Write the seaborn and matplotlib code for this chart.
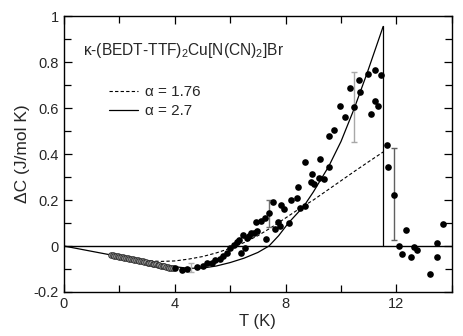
# Specific heat difference of kappa-(BEDT-TTF)2Cu[N(CN)2]Br vs temperature
import numpy as np
import pandas as pd
import matplotlib
matplotlib.use("Agg")
import matplotlib.pyplot as plt
from matplotlib.ticker import MultipleLocator, FixedLocator
from matplotlib.lines import Line2D
import seaborn as sns

# ---- data ----
# low temperature points (grey, dense)
grey_t = [1.70, 1.76, 1.82, 1.88, 1.94, 2.00, 2.06, 2.12, 2.18, 2.24, 2.30,
          2.36, 2.42, 2.48, 2.54, 2.60, 2.66, 2.72, 2.78, 2.84, 2.90, 2.96,
          3.02, 3.08, 3.14, 3.20, 3.26, 3.32, 3.38, 3.44, 3.50, 3.56, 3.62,
          3.68, 3.74, 3.80, 3.86, 3.92]
grey_c = [-0.040, -0.041, -0.043, -0.044, -0.045, -0.047, -0.048, -0.049,
          -0.051, -0.052, -0.053, -0.055, -0.056, -0.058, -0.060, -0.061,
          -0.062, -0.064, -0.066, -0.067, -0.069, -0.071, -0.073, -0.074,
          -0.076, -0.077, -0.079, -0.080, -0.082, -0.084, -0.086, -0.087,
          -0.089, -0.091, -0.092, -0.094, -0.095, -0.097]

# black points
data_t = [4.02, 4.26, 4.44, 4.81, 5.02, 5.17, 5.35, 5.47, 5.65, 5.75, 5.89,
          6.01, 6.14, 6.26, 6.32, 6.38, 6.53, 6.47, 6.62, 6.68, 6.76, 6.86,
          6.98, 6.92, 7.10, 7.25, 7.28, 7.40, 7.56, 7.61, 7.73, 7.83, 7.80,
          7.95, 8.13, 8.19, 8.41, 8.43, 8.53, 8.70, 8.70, 8.91, 8.97, 9.03,
          9.21, 9.25, 9.40, 9.55, 9.55, 9.76, 9.98, 10.16, 10.34, 10.46,
          10.64, 10.69, 10.97, 11.09, 11.24, 11.24, 11.33, 11.45, 11.65,
          11.71, 11.91, 12.09, 12.21, 12.36, 12.51, 12.62, 12.75, 13.22,
          13.48, 13.48, 13.68]
data_c = [-0.097, -0.104, -0.099, -0.090, -0.088, -0.076, -0.074, -0.060,
          -0.057, -0.044, -0.030, -0.010, 0.006, 0.016, 0.028, -0.030, -0.009,
          0.049, 0.035, 0.045, 0.057, 0.057, 0.064, 0.103, 0.107, 0.122,
          0.030, 0.143, 0.190, 0.074, 0.103, 0.180, 0.088, 0.160, 0.100,
          0.200, 0.210, 0.257, 0.165, 0.175, 0.365, 0.277, 0.313, 0.270,
          0.296, 0.380, 0.290, 0.343, 0.480, 0.506, 0.607, 0.560, 0.687,
          0.604, 0.723, 0.672, 0.749, 0.575, 0.766, 0.629, 0.610, 0.745,
          0.438, 0.343, 0.223, 0.001, -0.033, 0.071, -0.048, -0.003, -0.019,
          -0.122, -0.048, 0.013, 0.097]

# error bars: position, lower, upper, colour
err_t = [4.57, 7.40, 10.46, 11.91]
err_c = [-0.095, 0.140, 0.604, 0.223]
err_lo = [-0.115, 0.081, 0.452, 0.025]
err_hi = [-0.075, 0.200, 0.755, 0.425]
err_col = ["#b0b0b0", "#707070", "#a8a8a8", "#606060"]

# model curves
tc = 11.52
fit27_t = [0, 1.0, 1.7, 2.5, 3.0, 3.5, 4.0, 4.5, 5.0, 5.5, 6.0, 6.5, 7.0,
           7.4, 7.75, 8.1, 8.65, 9.0, 9.55, 10.0, 10.46, 10.94, 11.52]
fit27_c = [0, -0.023, -0.039, -0.057, -0.068, -0.080, -0.090, -0.097,
           -0.096, -0.087, -0.072, -0.053, -0.028, 0.0, 0.045, 0.100, 0.172,
           0.235, 0.345, 0.455, 0.593, 0.752, 0.955]
fit176_t = [2.5, 3.0, 3.5, 4.0, 4.5, 5.0, 5.5, 6.0, 6.5, 7.0, 7.45, 8.0,
            8.53, 9.0, 9.5, 10.0, 10.5, 11.0, 11.52]
fit176_c = [-0.057, -0.064, -0.067, -0.065, -0.057, -0.046, -0.030, -0.010,
            0.015, 0.045, 0.078, 0.122, 0.165, 0.200, 0.242, 0.284, 0.326,
            0.367, 0.409]

# ---- plot ----
sns.set_style("ticks")
plt.rcParams["font.family"] = ["Liberation Sans", "DejaVu Sans"]
plt.rcParams["mathtext.default"] = "regular"

fig = plt.figure(figsize=(4.63, 3.36), dpi=100)
ax = fig.add_axes([0.138, 0.131, 0.838, 0.821])

ax.axhline(0, color="black", lw=1.0, zorder=1)

sns.lineplot(x=fit176_t, y=fit176_c, ax=ax, color="black", lw=0.8,
             linestyle=(0, (3, 2)), sort=False, zorder=2)
sns.lineplot(x=fit27_t, y=fit27_c, ax=ax, color="black", lw=0.9,
             sort=False, zorder=2)
ax.plot([tc, tc], [0, fit27_c[-1]], color="black", lw=0.9, zorder=2)

for t, c, lo, hi, col in zip(err_t, err_c, err_lo, err_hi, err_col):
    ax.errorbar([t], [c], yerr=[[c - lo], [hi - c]], fmt="none",
                ecolor=col, elinewidth=1.0, capsize=2.5, capthick=1.0,
                zorder=3)

sns.scatterplot(x=grey_t, y=grey_c, ax=ax, marker="o", s=16,
                facecolor="#a8a8a8", edgecolor="#303030", linewidth=0.7,
                zorder=4)
sns.scatterplot(x=data_t, y=data_c, ax=ax, marker="o", s=23,
                color="black", edgecolor="black", linewidth=0, zorder=5)

ax.set_xlim(0, 14)
ax.set_ylim(-0.2, 1.0)
ax.xaxis.set_major_locator(FixedLocator([0, 4, 8, 12]))
ax.xaxis.set_minor_locator(MultipleLocator(2))
ax.yaxis.set_major_locator(MultipleLocator(0.2))
ax.yaxis.set_minor_locator(MultipleLocator(0.1))
ax.set_yticks([-0.2, 0, 0.2, 0.4, 0.6, 0.8, 1.0])
ax.set_yticklabels(["-0.2", "0", "0.2", "0.4", "0.6", "0.8", "1"])
ax.tick_params(which="both", direction="in", top=True, right=True,
               labelsize=10.5, width=0.9, color="black")
ax.tick_params(which="major", length=6)
ax.tick_params(which="minor", length=5)
for sp in ax.spines.values():
    sp.set_linewidth(1.0)
    sp.set_color("black")

ax.set_xlabel("T (K)", fontsize=12, labelpad=2)
ax.set_ylabel("ΔC (J/mol K)", fontsize=12.5, labelpad=3)

ax.text(0.05, 0.877, "κ-(BEDT-TTF)$_2$Cu[N(CN)$_2$]Br", transform=ax.transAxes,
        fontsize=11.2, va="center", ha="left")

handles = [Line2D([], [], color="black", lw=0.8, linestyle=(0, (3, 2))),
           Line2D([], [], color="black", lw=0.9)]
ax.legend(handles, ["α = 1.76", "α = 2.7"], loc="upper left",
          bbox_to_anchor=(0.08, 0.80), frameon=False, fontsize=11,
          handlelength=1.9, handletextpad=0.45, labelspacing=0.35)

fig.savefig("out.png", dpi=100)
